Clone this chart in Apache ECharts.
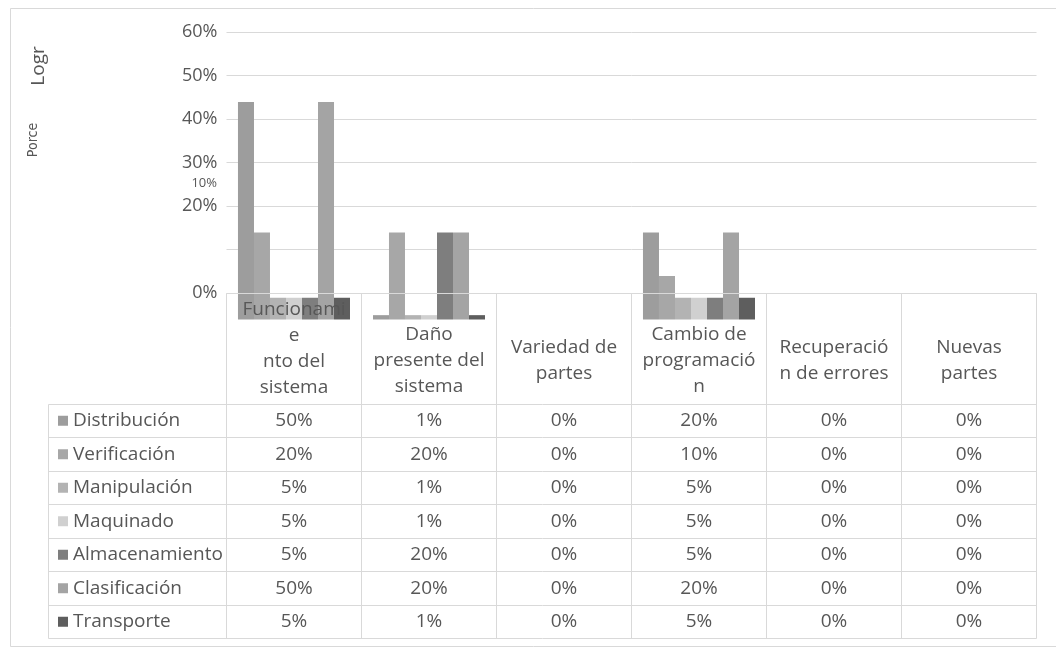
<!DOCTYPE html>
<html>
<head>
<meta charset="utf-8">
<script src="https://cdn.jsdelivr.net/npm/echarts@6/dist/echarts.min.js"></script>
<style>
  html, body { margin: 0; padding: 0; background: #ffffff; }
  #c { width: 1056px; height: 650px; }
</style>
</head>
<body>
<div id="c"></div>
<script>
// ---- data ----
const categories = ['Funcionamiento del sistema', 'Daño presente del sistema', 'Variedad de partes',
  'Cambio de programación', 'Recuperación de errores', 'Nuevas partes'];
const headerLabels = ['Funcionami\ne\nnto del\nsistema', 'Daño\npresente del\nsistema', 'Variedad de\npartes',
  'Cambio de\nprogramació\nn', 'Recuperació\nn de errores', 'Nuevas\npartes'];
const seriesNames = ['Distribución', 'Verificación', 'Manipulación', 'Maquinado', 'Almacenamiento', 'Clasificación', 'Transporte'];
const distribucion   = [50, 1, 0, 20, 0, 0];
const verificacion   = [20, 20, 0, 10, 0, 0];
const manipulacion   = [5, 1, 0, 5, 0, 0];
const maquinado      = [5, 1, 0, 5, 0, 0];
const almacenamiento = [5, 20, 0, 5, 0, 0];
const clasificacion  = [50, 20, 0, 20, 0, 0];
const transporte     = [5, 1, 0, 5, 0, 0];
const yTickValues = [0, 10, 20, 30, 40, 50, 60];
const axisTitle = 'Logr';
const axisSubTitle = 'Porce';
const strayTickLabel = '10%';

// ---- styling / layout ----
const seriesValues = [distribucion, verificacion, manipulacion, maquinado, almacenamiento, clasificacion, transporte];
const palette = ['#9d9d9d', '#a7a7a7', '#b3b3b3', '#d0d0d0', '#7e7e7e', '#a4a4a4', '#5e5e5e'];
const FONT = '"Open Sans", sans-serif';
const TEXT = '#575757';
const RULE = '#d9d9d9';
const LEFT = 226.5, COLW = 135;
const PLOT_TOP = 32, PLOT_H = 261;      // labelled gridline area
const BAR_BASE = 319.5;                 // baseline of the bar plot
const HEAD_BOTTOM = 404, ROW_H = 33.5;  // data table rows
const LEGEND_LEFT = 48;
const FS = 19;

const fmt = v => v + '%';
const yMax = yTickValues[yTickValues.length - 1];
const yStep = yTickValues[1] - yTickValues[0];

const option = {
  backgroundColor: '#ffffff',
  animation: false,
  grid: [
    { left: LEFT, top: PLOT_TOP, width: COLW * categories.length, height: PLOT_H },
    { left: LEFT, top: BAR_BASE - PLOT_H, width: COLW * categories.length, height: PLOT_H }
  ],
  xAxis: [
    { type: 'category', gridIndex: 0, data: categories, axisLine: { show: false }, axisTick: { show: false }, axisLabel: { show: false } },
    { type: 'category', gridIndex: 1, data: categories, show: false }
  ],
  yAxis: [
    {
      type: 'value', gridIndex: 0, min: yTickValues[0], max: yMax, interval: yStep,
      axisLine: { show: false }, axisTick: { show: false },
      axisLabel: {
        margin: 9, color: TEXT, fontFamily: FONT, fontSize: 18,
        formatter: v => (v === 10 ? '' : fmt(v))
      },
      splitLine: { lineStyle: { color: RULE, width: 1 } }
    },
    { type: 'value', gridIndex: 1, min: yTickValues[0], max: yMax, interval: yStep, show: false }
  ],
  series: seriesNames.map((name, i) => ({
    name: name,
    type: 'bar',
    xAxisIndex: 1,
    yAxisIndex: 1,
    data: seriesValues[i],
    barGap: '0%',
    barCategoryGap: '17%',
    itemStyle: { color: palette[i] },
    silent: true
  }))
};

const chart = echarts.init(document.getElementById('c'));
chart.setOption(option);

// ---- frame, data table and extra labels ----
const nCol = categories.length;
const xRight = LEFT + COLW * nCol;
const tableBottom = HEAD_BOTTOM + ROW_H * seriesNames.length;
const zeroY = Math.round(chart.convertToPixel({ yAxisIndex: 0 }, 0)) + 0.5;
const g = [];
const crisp = v => Math.round(v - 0.5) + 0.5;

function rule(x1, y1, x2, y2) {
  g.push({ type: 'line', silent: true, z: 50,
    shape: { x1: crisp(x1), y1: crisp(y1), x2: crisp(x2), y2: crisp(y2) },
    style: { stroke: RULE, lineWidth: 1 } });
}
function label(text, x, y, opts) {
  g.push({ type: 'text', silent: true, z: 60, x: x, y: y,
    style: Object.assign({ text: text, fill: TEXT, font: FS + 'px ' + FONT, align: 'center', verticalAlign: 'middle' }, opts || {}) });
}

// outer chart frame
rule(10, 8, 1056, 8);
rule(10, 8, 10, 646);
rule(10, 646, 1056, 646);

// table: top (zero line over the bars), column rules, row rules
rule(LEFT, zeroY, xRight, zeroY);
for (let i = 0; i <= nCol; i++) rule(LEFT + COLW * i, zeroY, LEFT + COLW * i, tableBottom);
rule(LEGEND_LEFT, HEAD_BOTTOM, LEGEND_LEFT, tableBottom);
for (let r = 0; r <= seriesNames.length; r++) rule(LEGEND_LEFT, HEAD_BOTTOM + ROW_H * r, xRight, HEAD_BOTTOM + ROW_H * r);

// header cells
categories.forEach((c, i) => {
  const cx = chart.convertToPixel({ xAxisIndex: 0 }, c);
  label(headerLabels[i], cx, i === 0 ? 349 : 361, { lineHeight: 26 });
});

// rows: legend key, series name, values
seriesNames.forEach((name, r) => {
  const cy = HEAD_BOTTOM + ROW_H * (r + 0.5);
  g.push({ type: 'rect', silent: true, z: 60, shape: { x: 58, y: cy - 5, width: 10, height: 10 }, style: { fill: palette[r] } });
  label(name, 73, cy, { align: 'left' });
  seriesValues[r].forEach((v, i) => {
    label(fmt(v), chart.convertToPixel({ xAxisIndex: 0 }, categories[i]), cy);
  });
});

// stray small tick label and the clipped axis titles
label(strayTickLabel, 217, 183, { align: 'right', font: '13px ' + FONT });
g.push({ type: 'text', silent: true, z: 60, x: 39, y: 66, rotation: Math.PI / 2,
  style: { text: axisTitle, fill: TEXT, font: '19px ' + FONT, align: 'center', verticalAlign: 'middle' } });
g.push({ type: 'text', silent: true, z: 60, x: 33, y: 140, rotation: Math.PI / 2,
  style: { text: axisSubTitle, fill: TEXT, font: '14px "DejaVu Sans Condensed", ' + FONT, align: 'center', verticalAlign: 'middle' } });

chart.setOption({ graphic: { elements: g } });
</script>
</body>
</html>
